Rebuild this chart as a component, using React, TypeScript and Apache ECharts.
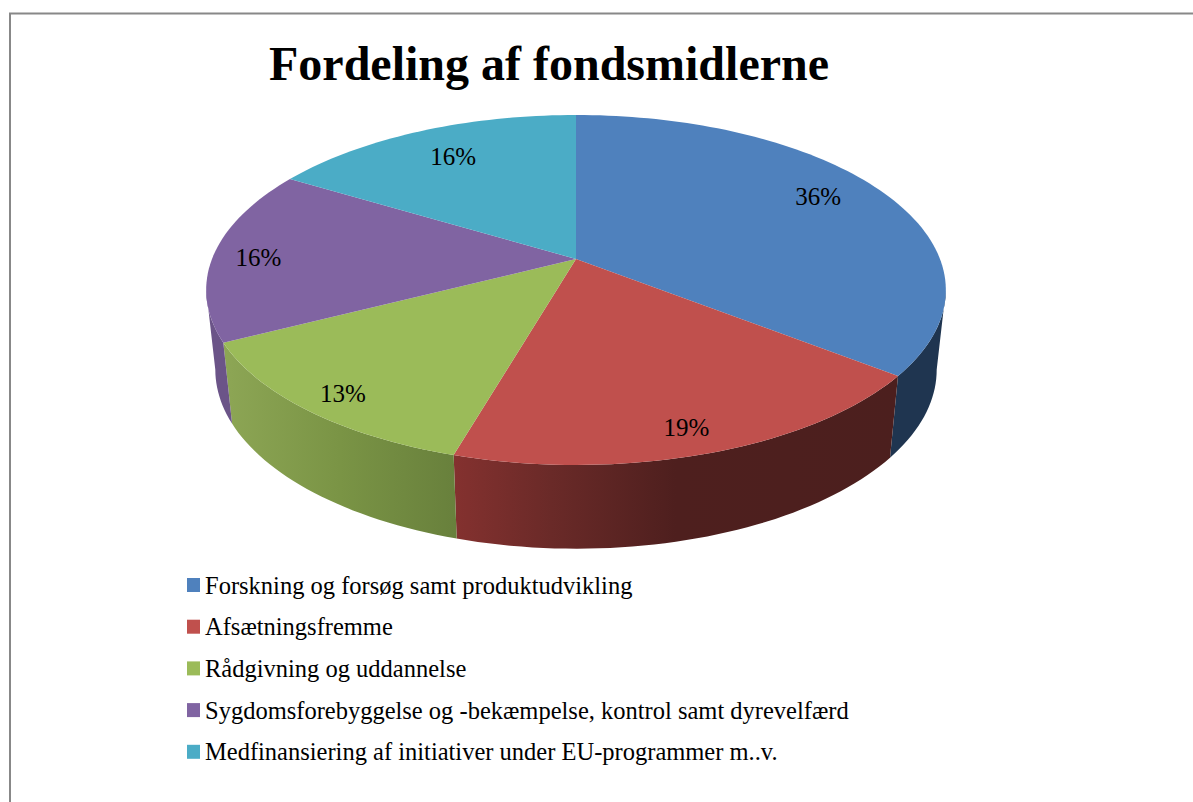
import React, { useEffect, useRef } from "react";
import * as echarts from "echarts";

const titleText = "Fordeling af fondsmidlerne";
const categories = [
  "Forskning og forsøg samt produktudvikling",
  "Afsætningsfremme",
  "Rådgivning og uddannelse",
  "Sygdomsforebyggelse og -bekæmpelse, kontrol samt dyrevelfærd",
  "Medfinansiering af initiativer under EU-programmer m..v.",
];
const values = [35.55, 18.95, 13, 16.1, 16.4];

const topColors = ["#4F81BD", "#C0504D", "#9BBB59", "#8064A2", "#4BACC6"];
const wallStops: [number, string][][] = [
  [[0, "#1F3550"], [1, "#1F3550"]],
  [[0, "#84312F"], [0.22, "#6A2A28"], [0.5, "#4E1F1E"], [1, "#4C1F1E"]],
  [[0, "#8DA655"], [0.5, "#7A9445"], [1, "#68803C"]],
  [[0, "#6B5488"], [1, "#6B5488"]],
  [[0, "#2F6F80"], [1, "#2F6F80"]],
];
const labelRadii = [0.82, 0.885, 0.89, 0.875, 0.78];
const labelNudges = [[-10, -5], [-6, 1], [2, 2], [-1, 4], [2, 0]];

// Perspective projection of the pie's top and bottom discs
const CX = 576;
const K = 0.177;
const TOP = { y0: 259, a: 364, b: 169.5 };
const BOTTOM = { y0: 338, a: 355, b: 173.4 };
// Angles (from 12 o'clock) where the discs reach their left and right extremes
const SIDE_RIGHT = 100.2;
const SIDE_LEFT = 259.8;

const project = (deg: number, r: number, p: { y0: number; a: number; b: number }) => {
  const t = (deg * Math.PI) / 180;
  const X = r * Math.sin(t);
  const Y = -r * Math.cos(t);
  const d = 1 - K * Y;
  return [CX + (p.a * X) / d, p.y0 + (p.b * Y) / d];
};

const arc = (from: number, to: number, p: typeof TOP) => {
  const pts: number[][] = [];
  const n = Math.max(2, Math.ceil((to - from) / 1.5));
  for (let i = 0; i <= n; i++) pts.push(project(from + ((to - from) * i) / n, 1, p));
  return pts;
};

const total = values.reduce((a, b) => a + b, 0);

const makeSeries = (index: number) => {
  const startPct = values.slice(0, index).reduce((a, b) => a + b, 0);
  return {
    type: "custom",
    name: categories[index],
    coordinateSystem: "none",
    itemStyle: { color: topColors[index] },
    data: [values[index]],
    silent: true,
    renderItem: (_params: any, api: any) => {
      const v = api.value(0);
      const a0 = (startPct / total) * 360;
      const a1 = ((startPct + v) / total) * 360;
      const children: any[] = [];
      const w0 = Math.max(a0, SIDE_RIGHT);
      const w1 = Math.min(a1, SIDE_LEFT);
      if (w1 > w0) {
        const points = [...arc(w0, w1, TOP), ...arc(w0, w1, BOTTOM).reverse()];
        children.push({
          type: "polygon",
          z2: 1,
          shape: { points },
          style: {
            fill: new echarts.graphic.LinearGradient(
              0, 0, 1, 0,
              wallStops[index].map(([offset, color]) => ({ offset, color }))
            ),
          },
        });
      }
      children.push({
        type: "polygon",
        z2: 10,
        shape: { points: [[CX, TOP.y0], ...arc(a0, a1, TOP)] },
        style: { fill: topColors[index] },
      });
      const mid = (a0 + a1) / 2;
      const [lx, ly] = project(mid, labelRadii[index], TOP);
      children.push({
        type: "text",
        z2: 20,
        style: {
          x: lx + labelNudges[index][0],
          y: ly + labelNudges[index][1],
          text: `${Math.round((v / total) * 100)}%`,
          fill: "#000",
          font: '25px "Liberation Serif"',
          align: "center",
          verticalAlign: "middle",
        },
      });
      return { type: "group", children };
    },
  };
};

export default function App() {
  const ref = useRef<HTMLDivElement>(null);
  useEffect(() => {
    const chart = echarts.init(ref.current!, undefined, { renderer: "svg" });
    chart.setOption({
      animation: false,
      backgroundColor: "#fff",
      title: {
        text: titleText,
        left: 264,
        top: 34,
        textStyle: {
          fontFamily: "Liberation Serif",
          fontWeight: "bold",
          fontSize: 48,
          color: "#000",
        },
      },
      legend: {
        orient: "vertical",
        left: 182,
        top: 566,
        icon: "rect",
        itemWidth: 13,
        itemHeight: 14,
        itemGap: 13.7,
        data: categories,
        selectedMode: false,
        textStyle: {
          fontFamily: "Liberation Serif",
          fontSize: 24.5,
          color: "#000",
          padding: 0,
          lineHeight: 28,
        },
      },
      graphic: [
        {
          type: "polyline",
          silent: true,
          shape: { points: [[10, 802], [10, 13.5], [1193, 13.5]] },
          style: { stroke: "#888888", lineWidth: 2, fill: "none" },
        },
      ],
      series: categories.map((_, i) => makeSeries(i)),
    });
    return () => chart.dispose();
  }, []);
  return <div ref={ref} style={{ position: "fixed", left: 0, top: 0, width: 1193, height: 802 }} />;
}
